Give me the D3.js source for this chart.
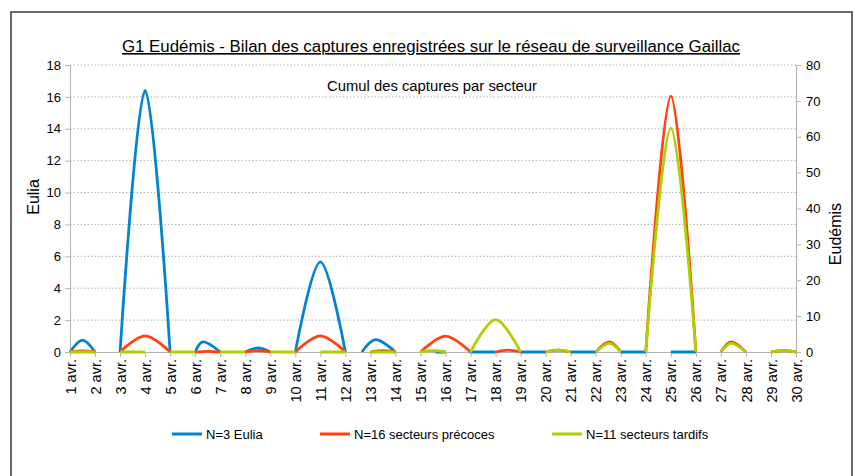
<!DOCTYPE html>
<html>
<head>
<meta charset="utf-8">
<script src="https://cdn.jsdelivr.net/npm/d3@7"></script>
<style>
  body { margin: 0; background: #fff; }
  svg { font-family: "Liberation Sans", Arial, sans-serif; }
</style>
</head>
<body>
<svg id="chart"></svg>
<script>
// categories (x axis)
const dayLabels = ['1 avr.', '2 avr.', '3 avr.', '4 avr.', '5 avr.', '6 avr.', '7 avr.', '8 avr.', '9 avr.', '10 avr.',
    '11 avr.', '12 avr.', '13 avr.', '14 avr.', '15 avr.', '16 avr.', '17 avr.', '18 avr.', '19 avr.', '20 avr.',
    '21 avr.', '22 avr.', '23 avr.', '24 avr.', '25 avr.', '26 avr.', '27 avr.', '28 avr.', '29 avr.', '30 avr.'];

const leftTicks = [0, 2, 4, 6, 8, 10, 12, 14, 16, 18];
const rightTicks = [0, 10, 20, 30, 40, 50, 60, 70, 80];

// [day, captures], null = gap in the line
const euliaValues = [[1, 0], [1.5, 0.75], [2, 0], null, [3, 0], [4, 16.4], [5, 0], null,
    [6, 0], [6.3, 0.63], [7, 0], null, [8, 0], [8.5, 0.25], [9, 0], null,
    [10, 0], [11, 5.65], [12, 0], null, [12.66, 0], [13.2, 0.77], [14, 0], null,
    [15.6, 0], [16, 0], null, [17, 0], [18, 0], null, [19, 0], [20, 0], null,
    [21, 0], [22, 0], null, [23, 0], [24, 0], null, [25, 0], [26, 0]];

const precocesValues = [[1, 0], [1.5, 0.3], [2, 0], null, [3, 0], [4, 4.5], [5, 0], null,
    [6, 0], [6.5, 0.2], [7, 0], null, [8, 0], [8.5, 0.4], [9, 0], null,
    [10, 0], [11, 4.5], [12, 0], null, [13, 0], [13.5, 0.4], [14, 0], null,
    [15, 0], [16, 4.4], [17, 0], null, [18, 0], [18.5, 0.5], [19, 0], null,
    [20, 0], [20.5, 0.5], [21, 0], null, [22, 0], [22.55, 2.8], [23, 0], null,
    [24, 0], [25, 71.3], [26, 0], null, [27, 0], [27.4, 2.8], [28, 0], null,
    [29, 0], [29.5, 0.4], [30, 0]];

const tardifsValues = [[1, 0], [2, 0], null, [3, 0], [4, 0], null, [5, 0], [6, 0], null,
    [7, 0], [8, 0], null, [9, 0], [10, 0], null, [11, 0], [12, 0], null,
    [13, 0], [14, 0], null, [15, 0], [15.5, 0.4], [16, 0], null,
    [17, 0], [18, 9], [19, 0], null, [20, 0], [20.5, 0.6], [21, 0], null,
    [22, 0], [22.55, 2.4], [23, 0], null, [24, 0], [25, 62.4], [26, 0], null,
    [27, 0], [27.4, 2.4], [28, 0], null, [29, 0], [29.5, 0.4], [30, 0]];

const seriesNames = ['N=3 Eulia', 'N=16 secteurs précoces', 'N=11 secteurs tardifs'];

class CaptureChart {

    constructor(_config) {
        this.config = {
            parentElement: _config.parentElement,
            containerWidth: 855,
            containerHeight: 476,
            margin: {top: 65, right: 59, bottom: 124, left: 70}
        };
        this.initVis();
    }

    initVis() {
        let vis = this;

        vis.width = vis.config.containerWidth - vis.config.margin.left - vis.config.margin.right;
        vis.height = vis.config.containerHeight - vis.config.margin.top - vis.config.margin.bottom;

        vis.svg = d3.select(vis.config.parentElement)
            .attr('width', vis.config.containerWidth)
            .attr('height', vis.config.containerHeight);

        // outer frame
        vis.svg.append('rect')
            .attr('x', 11)
            .attr('y', 12)
            .attr('width', 841)
            .attr('height', 480)
            .attr('fill', 'none')
            .attr('stroke', '#3a3a3a')
            .attr('stroke-width', 1.5);

        vis.chart = vis.svg.append('g')
            .attr('transform', `translate(${vis.config.margin.left},${vis.config.margin.top})`);

        vis.xScale = d3.scaleLinear()
            .domain([1, dayLabels.length])
            .range([0, vis.width]);

        vis.yLeft = d3.scaleLinear()
            .domain([0, 18])
            .range([vis.height, 0]);

        vis.yRight = d3.scaleLinear()
            .domain([0, 80])
            .range([vis.height, 0]);

        vis.colors = ['#0084d1', '#ff420e', '#aecf00'];

        vis.renderVis();
    }

    renderVis() {
        let vis = this;

        // dotted gridlines from the left axis
        vis.chart.selectAll('.grid')
            .data(leftTicks.filter(d => d > 0))
            .join('line')
            .attr('class', 'grid')
            .attr('x1', 0)
            .attr('x2', vis.width)
            .attr('y1', d => vis.yLeft(d))
            .attr('y2', d => vis.yLeft(d))
            .attr('stroke', '#b3b3b3')
            .attr('stroke-dasharray', '1.5,2');

        const styleAxis = g => {
            g.select('.domain').attr('stroke', '#b3b3b3');
            g.selectAll('.tick line').attr('stroke', '#b3b3b3');
            g.selectAll('.tick text')
                .attr('fill', '#000')
                .style('font-size', '13px')
                .style('font-family', '"Liberation Sans", Arial, sans-serif');
        };

        vis.chart.append('g')
            .call(d3.axisLeft(vis.yLeft).tickValues(leftTicks).tickSize(5).tickSizeOuter(0).tickPadding(4))
            .call(styleAxis);

        vis.chart.append('g')
            .attr('transform', `translate(${vis.width},0)`)
            .call(d3.axisRight(vis.yRight).tickValues(rightTicks).tickSize(5).tickSizeOuter(0).tickPadding(5))
            .call(styleAxis);

        vis.chart.append('g')
            .attr('transform', `translate(0,${vis.height})`)
            .call(d3.axisBottom(vis.xScale)
                .tickValues(d3.range(1, dayLabels.length + 1))
                .tickFormat(d => dayLabels[d - 1])
                .tickSize(5).tickSizeOuter(0))
            .call(styleAxis)
            .selectAll('.tick text')
            .style('font-size', '14.5px')
            .attr('transform', 'rotate(-90)')
            .attr('text-anchor', 'end')
            .attr('x', -7)
            .attr('y', 0)
            .attr('dy', '0.35em');

        // series lines
        const lineFor = scale => d3.line()
            .defined(d => d !== null)
            .x(d => vis.xScale(d[0]))
            .y(d => scale(d[1]))
            .curve(d3.curveCatmullRom);

        const series = [
            {values: euliaValues, scale: vis.yLeft},
            {values: precocesValues, scale: vis.yRight},
            {values: tardifsValues, scale: vis.yRight}
        ];

        vis.chart.selectAll('.series')
            .data(series)
            .join('path')
            .attr('class', 'series')
            .attr('fill', 'none')
            .attr('stroke', (d, i) => vis.colors[i])
            .attr('stroke-width', 2.8)
            .attr('stroke-linejoin', 'round')
            .attr('d', d => lineFor(d.scale)(d.values));

        // titles
        vis.svg.append('text')
            .attr('x', 431)
            .attr('y', 52)
            .attr('text-anchor', 'middle')
            .attr('text-decoration', 'underline')
            .attr('textLength', 618)
            .attr('lengthAdjust', 'spacingAndGlyphs')
            .style('font-size', '16px')
            .text('G1 Eudémis - Bilan des captures enregistrées sur le réseau de surveillance Gaillac');

        vis.svg.append('text')
            .attr('x', 432)
            .attr('y', 91)
            .attr('text-anchor', 'middle')
            .attr('textLength', 210)
            .attr('lengthAdjust', 'spacingAndGlyphs')
            .style('font-size', '14px')
            .text('Cumul des captures par secteur');

        vis.svg.append('text')
            .attr('transform', 'translate(39,197) rotate(-90)')
            .attr('text-anchor', 'middle')
            .style('font-size', '16px')
            .text('Eulia');

        vis.svg.append('text')
            .attr('transform', 'translate(841,234) rotate(-90)')
            .attr('text-anchor', 'middle')
            .style('font-size', '16px')
            .text('Eudémis');

        // legend
        const legendX = [172, 320, 552];
        const legend = vis.svg.selectAll('.legend')
            .data(seriesNames)
            .join('g')
            .attr('class', 'legend')
            .attr('transform', (d, i) => `translate(${legendX[i]},434)`);

        legend.append('line')
            .attr('x1', 0)
            .attr('x2', 30)
            .attr('stroke', (d, i) => vis.colors[i])
            .attr('stroke-width', 3);

        legend.append('text')
            .attr('x', 34)
            .attr('dy', '0.35em')
            .style('font-size', '13px')
            .text(d => d);
    }
}

new CaptureChart({parentElement: '#chart'});
</script>
</body>
</html>
